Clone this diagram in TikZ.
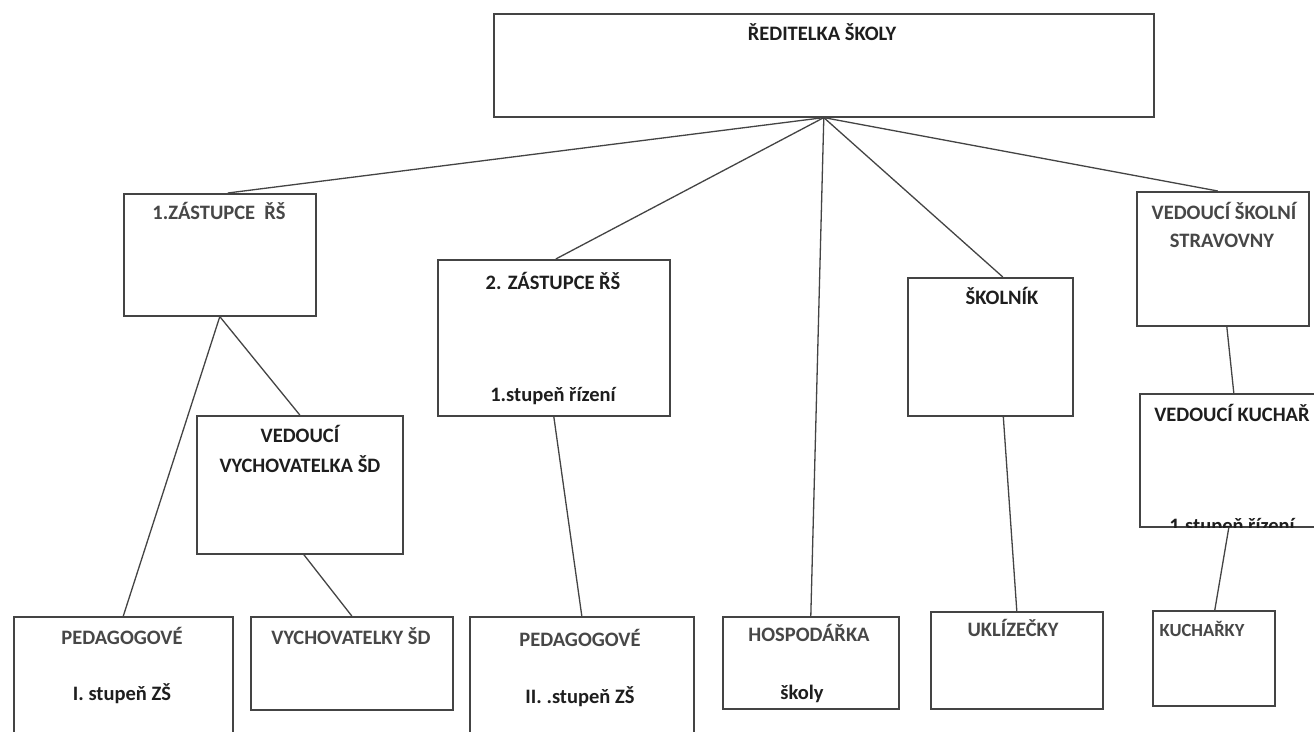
\documentclass[tikz,border=0pt]{standalone}
\usepackage{fontspec}
\setmainfont{Carlito}
\usetikzlibrary{calc}
\definecolor{ln}{HTML}{444444}
\definecolor{tg}{HTML}{474747}
\definecolor{td}{HTML}{1E1E1E}
\begin{document}
\begin{tikzpicture}[x=1pt,y=-1pt,
  box/.style={draw=ln, line width=1.6pt, inner sep=0pt, anchor=north west},
  conn/.style={draw=ln, line width=1.3pt},
  lbl/.style={anchor=base, inner sep=0pt, font=\bfseries\fontsize{20.5}{23}\selectfont, text=tg},
  dk/.style={text=td}]
\clip (0,0) rectangle (1314,731);
\fill[white] (0,0) rectangle (1314,731);

% boxes
\node[box, minimum width=660pt, minimum height=103pt] (dir) at (493,13) {};
\node[box, minimum width=192pt, minimum height=122pt] (z1) at (123,193) {};
\node[box, minimum width=232pt, minimum height=156pt] (z2) at (437,259) {};
\node[box, minimum width=206pt, minimum height=138pt] (vv) at (196,415) {};
\node[box, minimum width=165pt, minimum height=138pt] (skol) at (907,277) {};
\node[box, minimum width=172pt, minimum height=134pt] (vss) at (1136,191) {};
\node[box, minimum width=190pt, minimum height=133pt] (vk) at (1139,393) {};
\node[box, minimum width=219pt, minimum height=130pt] (ped1) at (13,616) {};
\node[box, minimum width=202pt, minimum height=93pt] (vych) at (250,616) {};
\node[box, minimum width=224pt, minimum height=130pt] (ped2) at (469,616) {};
\node[box, minimum width=176pt, minimum height=92pt] (hosp) at (722,616) {};
\node[box, minimum width=172pt, minimum height=97pt] (ukl) at (930,611) {};
\node[box, minimum width=122pt, minimum height=95pt] (kuch) at (1152,610) {};

% connectors
\draw[conn] (dir.south) -- ([xshift=8pt]z1.north);
\draw[conn] (dir.south) -- ([xshift=2pt]z2.north);
\draw[conn] (dir.south) -- (hosp.north);
\draw[conn] (dir.south) -- ([xshift=12.5pt]skol.north);
\draw[conn] (dir.south) -- ([xshift=-5pt]vss.north);
\draw[conn] (z1.south) -- (ped1.north);
\draw[conn] (z1.south) -- (vv.north);
\draw[conn] ([xshift=4pt]vv.south) -- (vych.north);
\draw[conn] (z2.south) -- (ped2.north);
\draw[conn] ([xshift=13pt]skol.south) -- (ukl.north);
\draw[conn] ([xshift=4pt]vss.south) -- ([xshift=-1pt]vk.north);
\draw[conn] ([xshift=-6pt]vk.south) -- ([xshift=1pt]kuch.north);

% labels
\node[lbl, dk] (tdir) at (822,40) {ŘEDITELKA ŠKOLY};
\node[lbl] (tz1) at (219,219) {1.ZÁSTUPCE\ \ ŘŠ};
\node[lbl, dk] (tz2a) at (553,289) {2. ZÁSTUPCE ŘŠ};
\node[lbl, dk] (tz2b) at (553,401) {1.stupeň řízení};
\node[lbl, dk] (tvva) at (300,442) {VEDOUCÍ};
\node[lbl, dk] (tvvb) at (300,472) {VYCHOVATELKA ŠD};
\node[lbl, dk] (tskol) at (1002,304) {ŠKOLNÍK};
\node[lbl] (tvssa) at (1224,219) {VEDOUCÍ ŠKOLNÍ};
\node[lbl] (tvssb) at (1222,247) {STRAVOVNY};
\node[lbl, dk] (tvka) at (1232,421) {VEDOUCÍ KUCHAŘ};
\begin{scope}
  \clip (vk.north west) rectangle (vk.south east);
  \node[lbl, dk] (tvkb) at (1232,532) {1.stupeň řízení};
\end{scope}
\node[lbl] (tp1a) at (122,644) {PEDAGOGOVÉ};
\node[lbl, dk] (tp1b) at (122,700) {I. stupeň ZŠ};
\node[lbl] (tvych) at (351,644) {VYCHOVATELKY ŠD};
\node[lbl] (tp2a) at (580,646) {PEDAGOGOVÉ};
\node[lbl, dk] (tp2b) at (580,703) {II. .stupeň ZŠ};
\node[lbl] (thosa) at (809,641) {HOSPODÁŘKA};
\node[lbl, dk] (thosb) at (802,699) {školy};
\node[lbl] (tukl) at (1013,636) {UKLÍZEČKY};
\node[lbl, font=\bfseries\fontsize{18.5}{21}\selectfont] (tkuch) at (1202,636) {KUCHAŘKY};
\end{tikzpicture}
\end{document}
